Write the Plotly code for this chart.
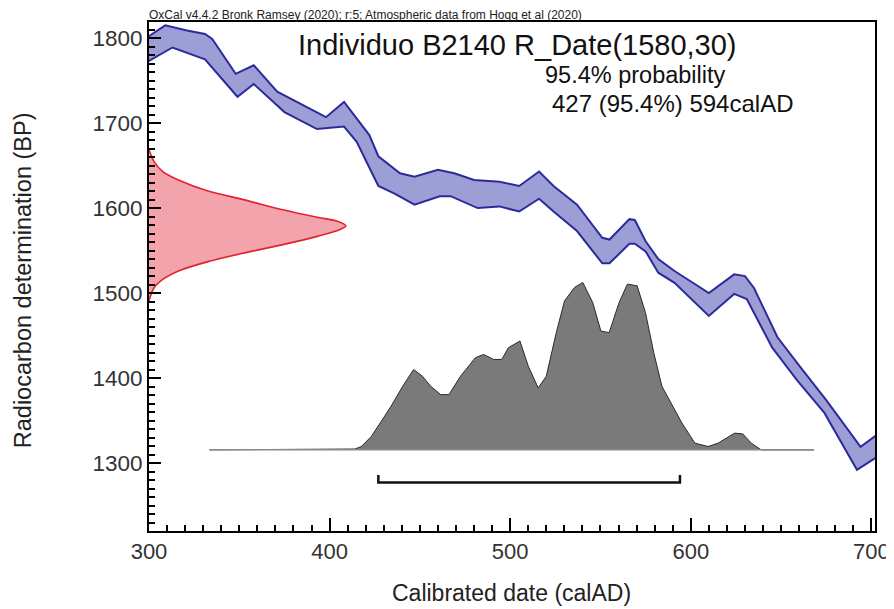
import plotly.graph_objects as go

# ---------------- data ----------------
# Calibration curve band (IntCal20) : upper and lower 1-sigma edges
cal_upper_year = [299, 309, 321, 331, 335, 348, 358, 371, 389, 398, 408, 415, 422, 427,
                  439, 447, 460, 469, 480, 494, 505, 516, 524, 537, 551, 555, 566, 569,
                  575, 582, 591, 602, 610, 624, 630, 635, 648, 661, 675, 694, 703]
cal_upper_bp = [1801, 1815, 1809, 1805, 1799, 1758, 1768, 1737, 1717, 1707, 1725, 1705, 1686, 1661,
                1641, 1637, 1645, 1641, 1633, 1631, 1626, 1643, 1626, 1604, 1565, 1563, 1587, 1586,
                1561, 1540, 1526, 1511, 1500, 1522, 1520, 1506, 1448, 1412, 1374, 1319, 1333]
cal_lower_year = [299, 309, 313, 331, 349, 358, 375, 393, 408, 415, 427, 436, 447, 461,
                  467, 482, 494, 505, 516, 524, 537, 551, 555, 566, 569, 575, 582, 591,
                  602, 610, 624, 631, 645, 659, 674, 692, 703]
cal_lower_bp = [1772, 1784, 1789, 1775, 1731, 1746, 1713, 1693, 1696, 1678, 1626, 1617, 1604, 1614,
                1614, 1600, 1602, 1596, 1611, 1596, 1573, 1535, 1535, 1558, 1558, 1549, 1524, 1512,
                1489, 1473, 1499, 1493, 1436, 1397, 1359, 1292, 1307]

# Radiocarbon date R_Date(1580,30): relative probability vs BP
rdate_bp = [1491, 1506, 1516, 1526, 1537, 1547, 1557, 1567, 1573, 1579, 1585, 1589,
            1598, 1610, 1620, 1633, 1643, 1655, 1669]
rdate_density = [0, 0.025, 0.07, 0.15, 0.30, 0.48, 0.68, 0.86, 0.95, 1.0, 0.95, 0.86,
                 0.68, 0.48, 0.30, 0.15, 0.07, 0.025, 0]

# Calibrated (posterior) distribution: relative probability vs calAD
post_year = [333.5, 399, 414, 417.6, 423.1, 428.6, 434.0, 440.5, 446.5, 451.4, 456.0, 461.5,
             466.1, 472.5, 480.7, 485.3, 490.8, 495.3, 499.0, 505.4, 510.0, 515.5, 520.0,
             525.5, 530.1, 535.6, 540.2, 545.7, 550.2, 554.8, 560.3, 564.9, 570.3, 574.9,
             579.5, 584.0, 589.6, 595.1, 602.3, 609.6, 615.1, 624.3, 628.8, 633.5, 639.0, 668.2]
post_density = [0, 0.003, 0.005, 0.02, 0.08, 0.17, 0.26, 0.38, 0.48, 0.44, 0.38, 0.33,
                0.33, 0.44, 0.55, 0.57, 0.54, 0.54, 0.61, 0.65, 0.50, 0.37, 0.44,
                0.70, 0.89, 0.97, 1.00, 0.88, 0.71, 0.70, 0.88, 0.99, 0.98, 0.82,
                0.58, 0.38, 0.27, 0.16, 0.04, 0.02, 0.04, 0.10, 0.095, 0.04, 0, 0]

range_95 = [427, 594]

header_text = "OxCal v4.4.2 Bronk Ramsey (2020); r:5; Atmospheric data from Hogg et al (2020)"
title_text = "Individuo B2140 R_Date(1580,30)"
prob_text = "95.4% probability"
range_text = "427 (95.4%) 594calAD"
x_title = "Calibrated date (calAD)"
y_title = "Radiocarbon determination (BP)"

# ---------------- layout geometry ----------------
# The page body adds an 8 px margin, so the figure starts 8 px in; all
# reference pixel positions are shifted by that offset.
OFF = 8
W, H = 894, 609
PLOT_LEFT, PLOT_RIGHT, PLOT_TOP, PLOT_BOTTOM = 149, 882, 22, 531   # reference pixels
L = PLOT_LEFT - OFF
R = W - (PLOT_RIGHT - OFF)
T = PLOT_TOP - OFF
B = H - (PLOT_BOTTOM - OFF)
X_RANGE = [300, 702]
Y_RANGE = [1220, 1819]
FONT = "Liberation Sans, Arial, Helvetica, sans-serif"

def px(xp):
    return (xp - PLOT_LEFT) / (PLOT_RIGHT - PLOT_LEFT)

def py(yp):
    return (PLOT_BOTTOM - yp) / (PLOT_BOTTOM - PLOT_TOP)

RDATE_WIDTH = 109      # years spanned by the radiocarbon date peak
POST_BASE = 1315.5     # BP of baseline of calibrated distribution
POST_HEIGHT = 197      # BP height of its peak

fig = go.Figure()

# calibration band fill
band_x = cal_upper_year + cal_lower_year[::-1]
band_y = cal_upper_bp + cal_lower_bp[::-1]
fig.add_trace(go.Scatter(x=band_x, y=band_y, fill="toself", mode="lines",
                         line=dict(width=0, color="rgba(0,0,0,0)"),
                         fillcolor="#9e9ed6", hoverinfo="skip", showlegend=False))
for xs, ys in ((cal_upper_year, cal_upper_bp), (cal_lower_year, cal_lower_bp)):
    fig.add_trace(go.Scatter(x=xs, y=ys, mode="lines",
                             line=dict(color="#2b2b9c", width=2),
                             hoverinfo="skip", showlegend=False))

# radiocarbon date (red, on the y axis)
r_x = [X_RANGE[0] + d * RDATE_WIDTH for d in rdate_density]
fig.add_trace(go.Scatter(x=r_x, y=rdate_bp, fill="toself", mode="lines",
                         line=dict(color="#e3222d", width=1.6, shape="spline", smoothing=0.8),
                         fillcolor="#f2a3ab", hoverinfo="skip", showlegend=False))

# calibrated distribution (grey)
p_y = [POST_BASE + d * POST_HEIGHT for d in post_density]
fig.add_trace(go.Scatter(x=post_year, y=p_y, fill="toself", mode="lines",
                         line=dict(width=0, color="rgba(0,0,0,0)"),
                         fillcolor="#7a7a7a", hoverinfo="skip", showlegend=False))
fig.add_trace(go.Scatter(x=post_year, y=p_y, mode="lines",
                         line=dict(color="#2a2a2a", width=1),
                         hoverinfo="skip", showlegend=False))
fig.add_trace(go.Scatter(x=[post_year[0], post_year[-1]], y=[POST_BASE, POST_BASE], mode="lines",
                         line=dict(color="#8a8a8a", width=1.5),
                         hoverinfo="skip", showlegend=False))

# 95.4% range bracket
BR_Y = 1277
BR_TICK = 9
fig.add_trace(go.Scatter(x=[range_95[0], range_95[0], range_95[1], range_95[1]],
                         y=[BR_Y + BR_TICK, BR_Y, BR_Y, BR_Y + BR_TICK], mode="lines",
                         line=dict(color="#111111", width=2.5),
                         hoverinfo="skip", showlegend=False))

annotations = [
    dict(text=header_text, xref="paper", yref="paper", x=px(147), y=py(15),
         xanchor="left", yanchor="middle", showarrow=False,
         font=dict(family=FONT, size=12, color="#222222")),
    dict(text=title_text, xref="paper", yref="paper", x=px(521), y=py(45),
         xanchor="center", yanchor="middle", showarrow=False,
         font=dict(family=FONT, size=29, color="#111111")),
    dict(text=prob_text, xref="paper", yref="paper", x=px(547), y=py(75),
         xanchor="left", yanchor="middle", showarrow=False,
         font=dict(family=FONT, size=23.5, color="#111111")),
    dict(text=range_text, xref="paper", yref="paper", x=px(554), y=py(103),
         xanchor="left", yanchor="middle", showarrow=False,
         font=dict(family=FONT, size=24, color="#111111")),
    dict(text=x_title, xref="paper", yref="paper", x=px(515), y=py(593),
         xanchor="center", yanchor="middle", showarrow=False,
         font=dict(family=FONT, size=23, color="#222222")),
    dict(text=y_title, xref="paper", yref="paper", x=px(22), y=py(280),
         xanchor="center", yanchor="middle", showarrow=False, textangle=-90,
         font=dict(family=FONT, size=23.5, color="#222222")),
]

fig.update_layout(
    width=W, height=H,
    margin=dict(l=L, r=R, t=T, b=B, pad=0),
    paper_bgcolor="white", plot_bgcolor="white",
    showlegend=False,
    annotations=annotations,
    font=dict(family=FONT, color="#333333"),
)
fig.update_xaxes(range=X_RANGE, showgrid=False, zeroline=False,
                 showline=True, linecolor="black", linewidth=2, mirror=True,
                 ticks="inside", ticklen=13, tickwidth=2, tickcolor="black",
                 tick0=300, dtick=100,
                 minor=dict(ticks="inside", ticklen=6, tickwidth=1.5, tickcolor="black", dtick=10, showgrid=False),
                 tickfont=dict(family=FONT, size=22, color="#333333"))
fig.update_yaxes(range=Y_RANGE, showgrid=False, zeroline=False,
                 showline=True, linecolor="black", linewidth=2, mirror=True,
                 ticks="inside", ticklen=12, tickwidth=2, tickcolor="black",
                 tick0=1300, dtick=100,
                 minor=dict(ticks="inside", ticklen=6, tickwidth=1.5, tickcolor="black", dtick=10, showgrid=False),
                 tickfont=dict(family=FONT, size=22.5, color="#333333"))

fig.write_html("out.html")
